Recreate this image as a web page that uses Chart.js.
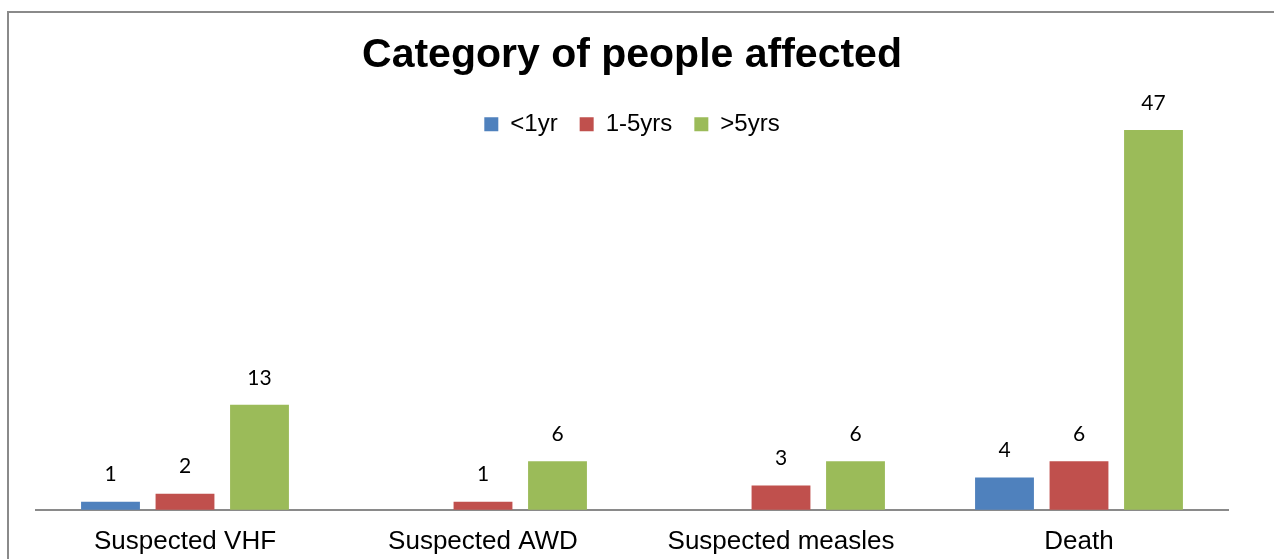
<!DOCTYPE html>
<html>
<head>
<meta charset="utf-8">
<script src="https://cdn.jsdelivr.net/npm/chart.js@4/dist/chart.umd.min.js"></script>
<style>
    body { margin: 0; background: #fff; }
    #wrap { position: relative; width: 1274px; height: 559px; overflow: hidden; }
    #frame { position: absolute; left: 7px; top: 11px; width: 1300px; height: 600px;
             border-left: 2px solid #8a8a8a; border-top: 2px solid #8a8a8a; }
    #chart { position: absolute; left: 0; top: 0; }
</style>
</head>
<body>
<div id="wrap">
    <div id="frame"></div>
    <canvas id="chart" width="1274" height="559"></canvas>
</div>
<script>
const categories = ["Suspected VHF", "Suspected AWD", "Suspected measles", "Death"];
const seriesNames = ["<1yr", "1-5yrs", ">5yrs"];
const underOne = [1, null, null, 4];
const oneToFive = [2, 1, 3, 6];
const overFive = [13, 6, 6, 47];
const seriesColors = ["#4F81BD", "#C0504D", "#9BBB59"];

// labels above bars (no datalabels plugin available offline)
const valueLabels = {
    id: "valueLabels",
    afterDatasetsDraw(chart) {
        const ctx = chart.ctx;
        ctx.save();
        ctx.font = "21px Lato";
        ctx.fillStyle = "#000";
        ctx.textAlign = "center";
        ctx.textBaseline = "middle";
        chart.data.datasets.forEach((ds, i) => {
            chart.getDatasetMeta(i).data.forEach((bar, j) => {
                const v = ds.data[j];
                if (v === null || v === undefined) return;
                ctx.fillText(String(v), bar.x, bar.y - 27);
            });
        });
        ctx.restore();
    }
};

const seriesData = [underOne, oneToFive, overFive];

new Chart(document.getElementById("chart"), {
    type: "bar",
    data: {
        labels: categories,
        datasets: seriesNames.map((name, i) => ({
            label: name,
            data: seriesData[i],
            backgroundColor: seriesColors[i],
            categoryPercentage: 0.75,
            barPercentage: 0.79,
            clip: false // the tallest bar reaches up behind the legend, like the original
        }))
    },
    options: {
        responsive: false,
        animation: false,
        layout: { padding: { left: 36, right: 46, top: 0, bottom: -14 } },
        plugins: {
            title: {
                display: true,
                text: "Category of people affected",
                color: "#000",
                font: { family: "Liberation Sans", size: 41, weight: "bold" },
                padding: { top: 31, bottom: 10 }
            },
            legend: {
                display: true,
                position: "top",
                labels: {
                    color: "#000",
                    font: { family: "Liberation Sans", size: 24 },
                    boxWidth: 14,
                    boxHeight: 14,
                    padding: 22
                }
            },
            tooltip: { enabled: false }
        },
        scales: {
            x: {
                grid: { display: false, drawTicks: false },
                border: { display: true, color: "#8a8a8a", width: 2 },
                ticks: {
                    color: "#000",
                    font: { family: "Liberation Sans", size: 26 },
                    padding: 16,
                    maxRotation: 0
                }
            },
            y: {
                display: false,
                min: 0,
                max: 45
            }
        }
    },
    plugins: [valueLabels]
});
</script>
</body>
</html>
